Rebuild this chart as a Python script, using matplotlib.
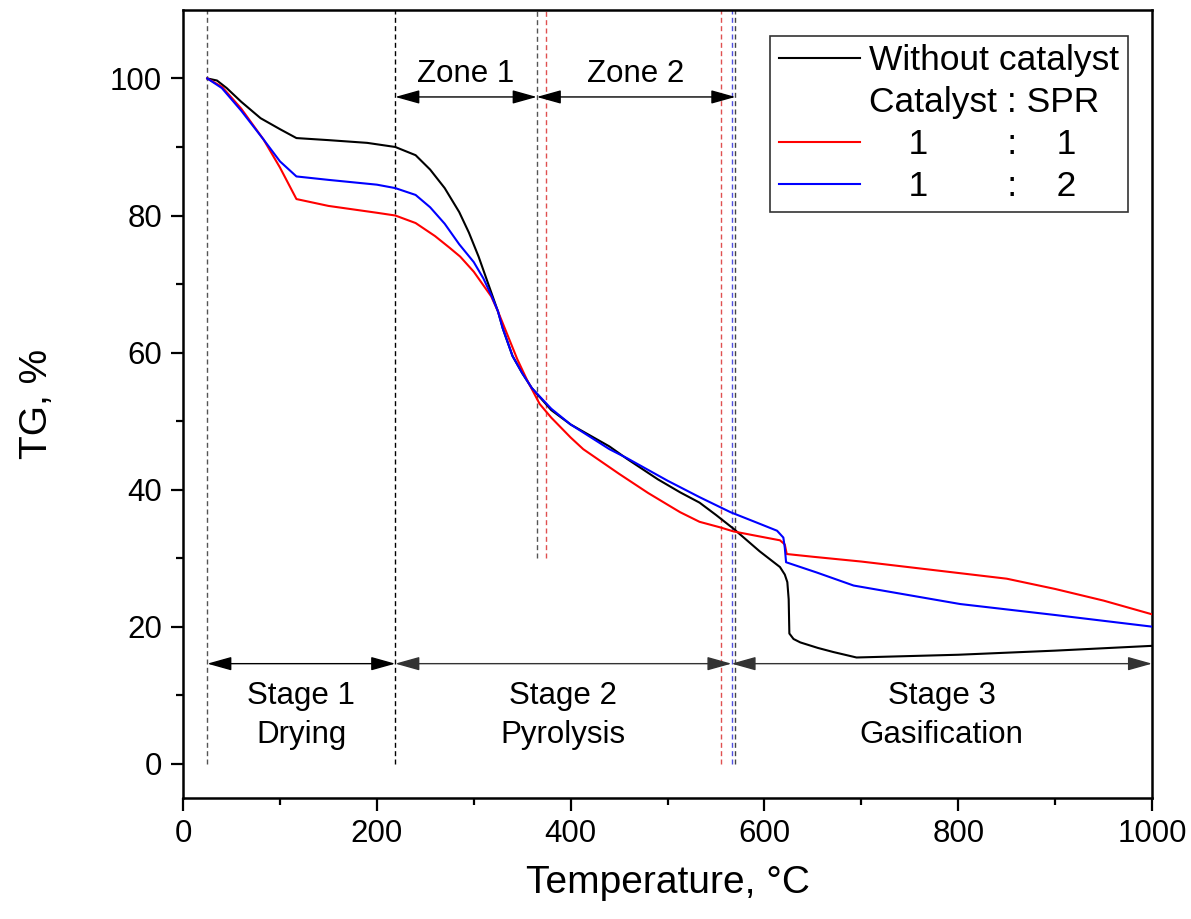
import matplotlib
matplotlib.use("Agg")
import matplotlib.pyplot as plt

plt.rcParams['font.family'] = ['Liberation Sans', 'DejaVu Sans']

# ---- data ----
temp_none = [25, 35, 45, 60, 80, 100, 117, 150, 190, 219, 240, 255, 270, 285, 295, 305,
             315, 325, 330, 340, 350, 360, 380, 400, 440, 458, 490, 513, 533, 550, 568,
             595, 616, 621, 623.6, 625, 625.7, 630, 637, 655, 671, 695, 800, 900, 1000]
tg_none = [100, 99.7, 98.6, 96.6, 94.2, 92.6, 91.3, 91.0, 90.6, 90.0, 88.8, 86.7, 84.0,
           80.5, 77.5, 74.0, 70.0, 66.0, 63.5, 59.5, 57.0, 54.8, 51.6, 49.5, 46.3, 44.5,
           41.5, 39.6, 38.1, 36.3, 34.3, 31.0, 28.7, 27.6, 26.5, 24.0, 19.0, 18.2, 17.7,
           16.9, 16.3, 15.5, 15.9, 16.5, 17.2]

temp_11 = [25, 40, 60, 83, 100, 117, 150, 200, 219, 240, 260, 275, 286, 300, 310, 318,
           325, 335, 345, 355, 368, 380, 400, 413, 450, 480, 500, 513, 533, 554, 568, 590,
           616, 621, 623, 650, 700, 802, 850, 900, 950, 1000]
tg_11 = [100, 98.8, 95.6, 91.1, 87.0, 82.4, 81.4, 80.4, 80.0, 78.9, 77.0, 75.3, 74.0,
         71.8, 69.8, 68.2, 66.0, 62.5, 59.0, 56.0, 52.5, 50.5, 47.6, 45.9, 42.3, 39.5,
         37.8, 36.7, 35.3, 34.5, 33.9, 33.3, 32.6, 32.0, 30.6, 30.2, 29.5, 27.8, 27.0,
         25.5, 23.8, 21.8]

temp_12 = [25, 40, 60, 83, 100, 117, 150, 200, 219, 240, 255, 270, 285, 300, 310, 318,
           325, 330, 340, 350, 360, 380, 400, 440, 458, 500, 533, 565, 590, 613, 619.5,
           621, 622.3, 654, 692, 802, 900, 1000]
tg_12 = [100, 98.6, 95.3, 91.1, 87.9, 85.7, 85.2, 84.5, 84.0, 83.0, 81.2, 78.8, 75.8,
         73.2, 70.8, 68.4, 66.0, 63.5, 59.5, 57.0, 54.8, 51.8, 49.5, 45.9, 44.6, 41.3,
         38.9, 36.7, 35.3, 34.0, 33.0, 31.5, 29.4, 27.9, 26.0, 23.3, 21.7, 20.0]

series_labels = ["Without catalyst", "Catalyst : SPR", "    1        :    1", "    1        :    2"]

# characteristic temperatures (dashed guide lines)
full_lines = [(25, "#555555"), (219, "black"), (555, "#e05050"), (566, "#5050e0"), (570, "#444444")]
zone_lines = [(365, "#555555"), (375, "#e05050")]

zone_arrows = [(219, 365, "Zone 1"), (365, 570, "Zone 2")]
stage_arrows = [(25, 219, "Stage 1\nDrying"), (219, 566, "Stage 2\nPyrolysis"), (566, 1000, "Stage 3\nGasification")]

fig = plt.figure(figsize=(11.91, 9.19), dpi=100)
ax = fig.add_axes([0.1537, 0.1317, 0.8136, 0.8575])

l1, = ax.plot(temp_none, tg_none, color="black", lw=1.5, zorder=3)
l2, = ax.plot(temp_11, tg_11, color="red", lw=1.5, zorder=3)
l3, = ax.plot(temp_12, tg_12, color="blue", lw=1.5, zorder=3)
blank, = ax.plot([], [], color="none")

for x, c in full_lines:
    ax.plot([x, x], [0, 110], color=c, lw=1.0, ls=(0, (3.6, 2.4)), zorder=2)
for x, c in zone_lines:
    ax.plot([x, x], [30, 110], color=c, lw=1.0, ls=(0, (3.6, 2.4)), zorder=2)

arrow_kw = dict(arrowstyle="<|-|>,head_length=1.0,head_width=0.28", color="black",
                lw=1.0, shrinkA=0, shrinkB=0, mutation_scale=15)
for a, b, t in zone_arrows:
    ax.annotate("", xy=(a, 97.3), xytext=(b, 97.3), arrowprops=arrow_kw)
    ax.text((a + b) / 2, 98.4, t, ha="center", va="bottom", fontsize=22.5)
for i, (a, b, t) in enumerate(stage_arrows):
    kw = dict(arrow_kw)
    kw["color"] = "black" if i == 0 else "#333333"
    ax.annotate("", xy=(a, 14.6), xytext=(b, 14.6), arrowprops=kw)
    ax.text((a + b) / 2, 7.0, t, ha="center", va="center", fontsize=22.5, linespacing=1.4)

ax.set_xlim(0, 1000)
ax.set_ylim(-5, 110)
ax.set_xticks([0, 200, 400, 600, 800, 1000])
ax.set_xticks([100, 300, 500, 700, 900], minor=True)
ax.set_yticks([0, 20, 40, 60, 80, 100])
ax.set_yticks([10, 30, 50, 70, 90], minor=True)
ax.tick_params(axis="both", which="major", direction="out", length=9, width=1.6,
               labelsize=22.5, pad=6)
ax.tick_params(axis="both", which="minor", direction="out", length=5, width=1.6)
ax.tick_params(top=False, right=False, which="both")
for s in ax.spines.values():
    s.set_linewidth(1.8)

ax.set_xlabel("Temperature, °C", fontsize=28, labelpad=12)
ax.set_ylabel("TG, %", fontsize=28, labelpad=40)

leg = ax.legend([l1, blank, l2, l3], series_labels, loc="upper right",
                bbox_to_anchor=(0.9755, 0.9675), fontsize=25.5, frameon=True,
                fancybox=False, edgecolor="black", handlelength=2.3,
                labelspacing=0.25, borderpad=0.25, handletextpad=0.25,
                borderaxespad=0.0)
leg.get_frame().set_linewidth(1.2)

fig.savefig("out.png", dpi=100)
